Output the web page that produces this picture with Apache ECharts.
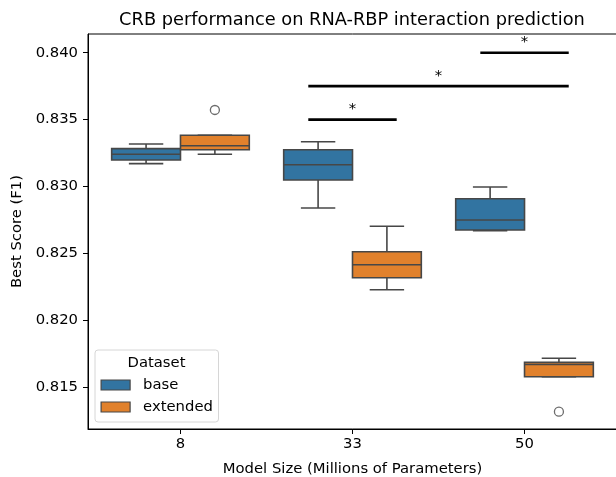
<!DOCTYPE html>
<html><head><meta charset="utf-8">
<script src="https://cdn.jsdelivr.net/npm/echarts@6/dist/echarts.min.js"></script>
<style>html,body{margin:0;padding:0;background:#fff}#c{width:616px;height:477px}</style>
</head><body><div id="c"></div>
<script>
// ---- data ----
const categories = ['8', '33', '50'];
const hues = ['base', 'extended'];
// [lower whisker, Q1, median, Q3, upper whisker] per category
const baseStats = [
  [0.83171, 0.83198, 0.83241, 0.83283, 0.83318],
  [0.82840, 0.83049, 0.83163, 0.83275, 0.83335],
  [0.82670, 0.82675, 0.82750, 0.82909, 0.82997]
];
const extendedStats = [
  [0.83241, 0.83275, 0.83305, 0.83383, 0.83383],
  [0.82229, 0.82319, 0.82416, 0.82513, 0.82703],
  [0.81579, 0.81579, 0.81670, 0.81686, 0.81717]
];
const outlierCategory = [0, 2];
const outlierHue = ['extended', 'extended'];
const outlierValue = [0.83572, 0.81318];
const yTicks = [0.815, 0.820, 0.825, 0.830, 0.835, 0.840];
// significance brackets: from (category, hue) to (category, hue) at level
const bracketFromCat = [1, 1, 2];
const bracketFromHue = ['base', 'base', 'base'];
const bracketToCat = [1, 2, 2];
const bracketToHue = ['extended', 'extended', 'extended'];
const bracketLevel = [0.8350, 0.8375, 0.8400];
const bracketLabel = ['*', '*', '*'];

// ---- style ----
const FONT = 'DejaVu Sans';
const FS = 14.8;
const colors = { base: '#3274a1', extended: '#e1812c' };
const LINE = '#474747';
const hueOffset = { base: -0.2, extended: 0.2 };
const HALF = 0.2, CAP = 0.1, PAD = 0.057;

function boxSeries(name, stats) {
  return {
    name: name,
    type: 'custom',
    itemStyle: { color: colors[name], borderColor: LINE, borderWidth: 1 },
    encode: { x: 0, y: [1, 2, 3, 4, 5] },
    data: stats.map((s, i) => [i].concat(s)),
    z: 3,
    renderItem: function (params, api) {
      const cx = api.value(0) + hueOffset[name];
      const mn = api.value(1), q1 = api.value(2), md = api.value(3), q3 = api.value(4), mx = api.value(5);
      const tl = api.coord([cx - HALF, q3]);
      const br = api.coord([cx + HALF, q1]);
      const c = api.coord([cx, md]);
      const ml = api.coord([cx - HALF, md]);
      const mr = api.coord([cx + HALF, md]);
      const top = api.coord([cx, mx]);
      const bot = api.coord([cx, mn]);
      const capL = api.coord([cx - CAP, mx])[0];
      const capR = api.coord([cx + CAP, mx])[0];
      const ls = { stroke: LINE, lineWidth: 1.6 };
      return {
        type: 'group',
        children: [
          { type: 'line', shape: { x1: c[0], y1: tl[1], x2: c[0], y2: top[1] }, style: ls },
          { type: 'line', shape: { x1: c[0], y1: br[1], x2: c[0], y2: bot[1] }, style: ls },
          { type: 'line', shape: { x1: capL, y1: top[1], x2: capR, y2: top[1] }, style: ls },
          { type: 'line', shape: { x1: capL, y1: bot[1], x2: capR, y2: bot[1] }, style: ls },
          { type: 'rect', shape: { x: tl[0], y: tl[1], width: br[0] - tl[0], height: br[1] - tl[1] },
            style: { fill: colors[name], stroke: LINE, lineWidth: 1.6 } },
          { type: 'line', shape: { x1: ml[0], y1: ml[1], x2: mr[0], y2: mr[1] }, style: ls }
        ]
      };
    }
  };
}

const outlierData = outlierValue.map((v, i) => [outlierCategory[i] + hueOffset[outlierHue[i]], v]);
const bracketData = bracketLevel.map((lv, i) => [
  bracketFromCat[i] + hueOffset[bracketFromHue[i]] - PAD,
  bracketToCat[i] + hueOffset[bracketToHue[i]] + PAD,
  lv, i
]);

const chart = echarts.init(document.getElementById('c'), null, { renderer: 'canvas' });
chart.setOption({
  animation: false,
  backgroundColor: '#fff',
  textStyle: { fontFamily: FONT },
  title: {
    text: 'CRB performance on RNA-RBP interaction prediction',
    left: 347, top: 6, textAlign: 'center',
    textStyle: { fontFamily: FONT, fontSize: 17.8, fontWeight: 'normal', color: '#000' }
  },
  grid: { left: 88, top: 34, width: 529, height: 395, show: true, borderColor: '#000', borderWidth: 1,
    backgroundColor: 'transparent', containLabel: false, outerBoundsMode: 'none' },
  xAxis: {
    type: 'value', min: -0.5376, max: 2.5376,
    name: 'Model Size (Millions of Parameters)', nameLocation: 'middle', nameGap: 33,
    nameTextStyle: { fontFamily: FONT, fontSize: FS, color: '#000' },
    axisLine: { show: true, onZero: false, lineStyle: { color: '#000', width: 1 } },
    axisTick: { show: true, length: 5, customValues: [0, 1, 2], lineStyle: { color: '#000' } },
    axisLabel: { customValues: [0, 1, 2], formatter: v => categories[Math.round(v)], margin: 8,
      fontFamily: FONT, fontSize: FS, color: '#000' },
    splitLine: { show: false }
  },
  yAxis: {
    type: 'value', min: 0.811884, max: 0.841397,
    name: 'Best Score (F1)', nameLocation: 'middle', nameGap: 55,
    nameTextStyle: { fontFamily: FONT, fontSize: FS, color: '#000' },
    axisLine: { show: true, onZero: false, lineStyle: { color: '#000', width: 1 } },
    axisTick: { show: true, length: 5, customValues: yTicks, lineStyle: { color: '#000' } },
    axisLabel: { customValues: yTicks, formatter: v => v.toFixed(3), margin: 10,
      fontFamily: FONT, fontSize: FS, color: '#000' },
    splitLine: { show: false }
  },
  legend: {
    orient: 'vertical', left: 100.5, top: 377.5, itemGap: 7, padding: 0,
    itemWidth: 29, itemHeight: 10,
    textStyle: { fontFamily: FONT, fontSize: FS, color: '#000', padding: [0, 0, 0, 8] },
    data: hues.map(h => ({ name: h, icon: 'rect', itemStyle: { color: colors[h], borderColor: LINE, borderWidth: 1.2 } }))
  },
  graphic: [
    { type: 'rect', left: 94.5, top: 349.5, shape: { width: 123.5, height: 72, r: 3 },
      style: { fill: 'rgba(255,255,255,0.8)', stroke: '#d6d6d6', lineWidth: 1 }, z: 1 },
    { type: 'text', x: 156.5, y: 363, style: { text: 'Dataset', font: FS + 'px "DejaVu Sans"', fill: '#000',
      textAlign: 'center', textVerticalAlign: 'middle' }, z: 2 }
  ],
  series: [
    boxSeries('base', baseStats),
    boxSeries('extended', extendedStats),
    {
      name: 'outliers', type: 'scatter', symbol: 'circle', symbolSize: 9,
      itemStyle: { color: 'rgba(0,0,0,0)', borderColor: LINE, borderWidth: 1.3 },
      data: outlierData, z: 4
    },
    {
      name: 'significance', type: 'custom',
      encode: { x: [0, 1], y: 2 },
      data: bracketData, z: 5,
      renderItem: function (params, api) {
        const a = api.coord([api.value(0), api.value(2)]);
        const b = api.coord([api.value(1), api.value(2)]);
        return {
          type: 'group', children: [
            { type: 'line', shape: { x1: a[0], y1: a[1], x2: b[0], y2: b[1] }, style: { stroke: '#000', lineWidth: 2.6 } },
            { type: 'text', x: (a[0] + b[0]) / 2, y: a[1] - 3,
              style: { text: bracketLabel[api.value(3)], font: FS + 'px "DejaVu Sans"', fill: '#000',
                textAlign: 'center', textVerticalAlign: 'bottom' } }
          ]
        };
      }
    }
  ]
});
</script></body></html>
